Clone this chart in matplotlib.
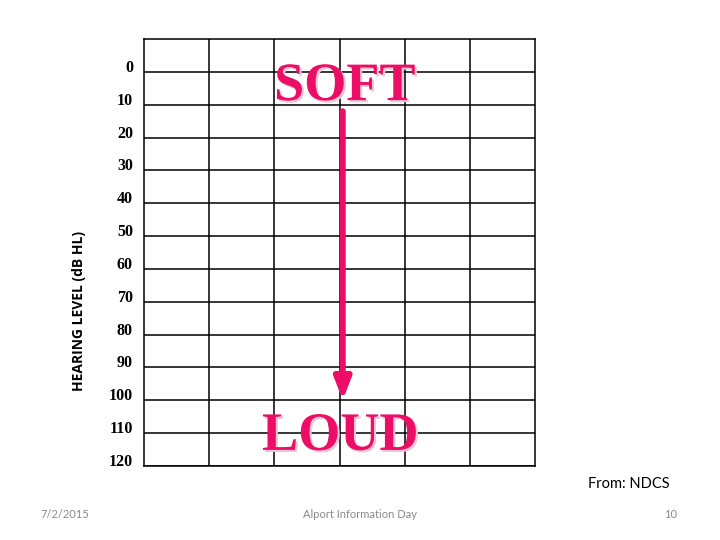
import matplotlib
matplotlib.use("Agg")
import matplotlib.pyplot as plt
import matplotlib.patheffects as pe

# hearing levels (dB HL), one grid row each
levels = [0, 10, 20, 30, 40, 50, 60, 70, 80, 90, 100, 110, 120]
level_labels = [str(v) for v in levels]
n_columns = 6
top_level = -10

# arrow from soft to loud
arrow_start = 12
arrow_end = 100
arrow_x = 3.05

pink = '#EC0E66'
shadow = '#EDC6D5'

fig = plt.figure(figsize=(7.2, 5.4), dpi=100)
ax = fig.add_axes([144 / 720, 1 - 466 / 540, 391 / 720, 427 / 540])

ax.set_xlim(0, n_columns)
ax.set_ylim(levels[-1], top_level)

ax.hlines(levels, 0, n_columns, color='black', lw=1.1)
ax.vlines(range(1, n_columns), top_level, levels[-1], color='black', lw=1.1)
for s in ax.spines.values():
    s.set_linewidth(1.1)
    s.set_color('black')

ax.set_xticks([])
ax.set_yticks(levels)
ax.set_yticklabels(level_labels, family='Liberation Serif', fontweight='bold',
                   fontsize=11.5, va='baseline')
ax.tick_params(axis='y', length=0, pad=8)

ax.annotate('', xy=(arrow_x, arrow_end), xytext=(arrow_x, arrow_start),
            arrowprops=dict(arrowstyle='-|>,head_length=1.3,head_width=0.5',
                            lw=4.3, color=pink, shrinkA=0, shrinkB=0))

word_fx = [pe.withSimplePatchShadow(offset=(1.5, -1.5), shadow_rgbFace=shadow, alpha=1)]
ax.text(3.08, 8.6, 'SOFT', family='Liberation Serif', fontweight='bold', fontsize=39,
        color=pink, ha='center', va='baseline', path_effects=word_fx)
ax.text(3.01, 115.1, 'LOUD', family='Liberation Serif', fontweight='bold', fontsize=39,
        color=pink, ha='center', va='baseline', path_effects=word_fx)

fig.text(79 / 720, 1 - 311 / 540, 'HEARING LEVEL (dB HL)', rotation=90, family='Open Sans',
         fontweight='bold', fontsize=10, ha='center', va='center')
fig.text(670 / 720, 1 - 484 / 540, 'From: NDCS', family='Lato', fontsize=10.5,
         ha='right', va='center')

fig.text(40 / 720, 1 - 515 / 540, '7/2/2015', family='Lato', fontsize=8,
         color='#8a8a8a', ha='left', va='center')
fig.text(360 / 720, 1 - 515 / 540, 'Alport Information Day', family='Lato', fontsize=8,
         color='#8a8a8a', ha='center', va='center')
fig.text(677 / 720, 1 - 515 / 540, '10', family='Lato', fontsize=8,
         color='#8a8a8a', ha='right', va='center')

fig.savefig('out.png', dpi=100)
